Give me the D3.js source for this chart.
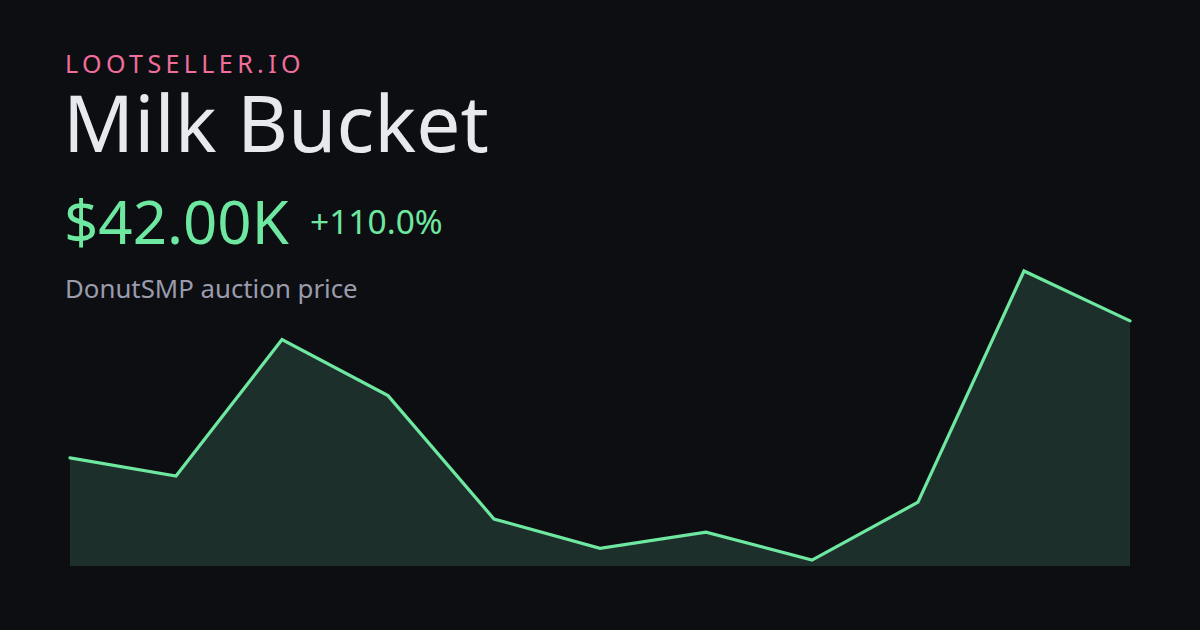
<!DOCTYPE html>
<html>
<head>
<meta charset="utf-8">
<script src="https://cdn.jsdelivr.net/npm/d3@7"></script>
<style>
html,body{margin:0;padding:0;background:#0d0e12;}
svg{display:block;}
</style>
</head>
<body>
<svg id="chart" width="1200" height="630"></svg>
<script>
// Data (thousands of $)
const periods = [0,1,2,3,4,5,6,7,8,9,10];
const prices = [20.0, 17.1, 39.0, 30.0, 10.2, 5.5, 8.1, 3.6, 12.9, 50.0, 42.0];
const brand = "LOOTSELLER.IO";
const itemName = "Milk Bucket";
const priceLabel = "$42.00K";
const changeLabel = "+110.0%";
const subtitle = "DonutSMP auction price";

const svg = d3.select("#chart");
const W = 1200, H = 630;
svg.append("rect").attr("width", W).attr("height", H).attr("fill", "#0d0e12");

const font = "'Noto Sans', 'Open Sans', sans-serif";

svg.append("text").attr("x", 65).attr("y", 73).text(brand)
  .attr("font-family", font).attr("font-size", 25).attr("letter-spacing", "4.4px")
  .attr("fill", "#f06d9c");
svg.append("text").attr("x", 63).attr("y", 152).text(itemName)
  .attr("font-family", font).attr("font-size", 78.5).attr("fill", "#e8e9ee");
svg.append("text").attr("x", 64).attr("y", 244).text(priceLabel)
  .attr("font-family", font).attr("font-size", 60).attr("fill", "#6ee7a0");
svg.append("text").attr("x", 310).attr("y", 234).text(changeLabel)
  .attr("font-family", font).attr("font-size", 33.5).attr("fill", "#6ee7a0");
svg.append("text").attr("x", 65).attr("y", 297.5).text(subtitle)
  .attr("font-family", font).attr("font-size", 25.8).attr("fill", "#9a9cad");

const x = d3.scaleLinear().domain(d3.extent(periods)).range([70, 1130]);
const y = d3.scaleLinear().domain([2.66, 50]).range([566, 271]);

const area = d3.area().x((d,i)=>x(periods[i])).y0(y(2.66)).y1(d=>y(d));
const line = d3.line().x((d,i)=>x(periods[i])).y(d=>y(d));

svg.append("path").datum(prices).attr("d", area).attr("fill", "#1d2f2a");
svg.append("path").datum(prices).attr("d", line).attr("fill", "none")
  .attr("stroke", "#6ee7a0").attr("stroke-width", 3.2)
  .attr("stroke-linejoin", "miter").attr("stroke-linecap", "round");
</script>
</body>
</html>
